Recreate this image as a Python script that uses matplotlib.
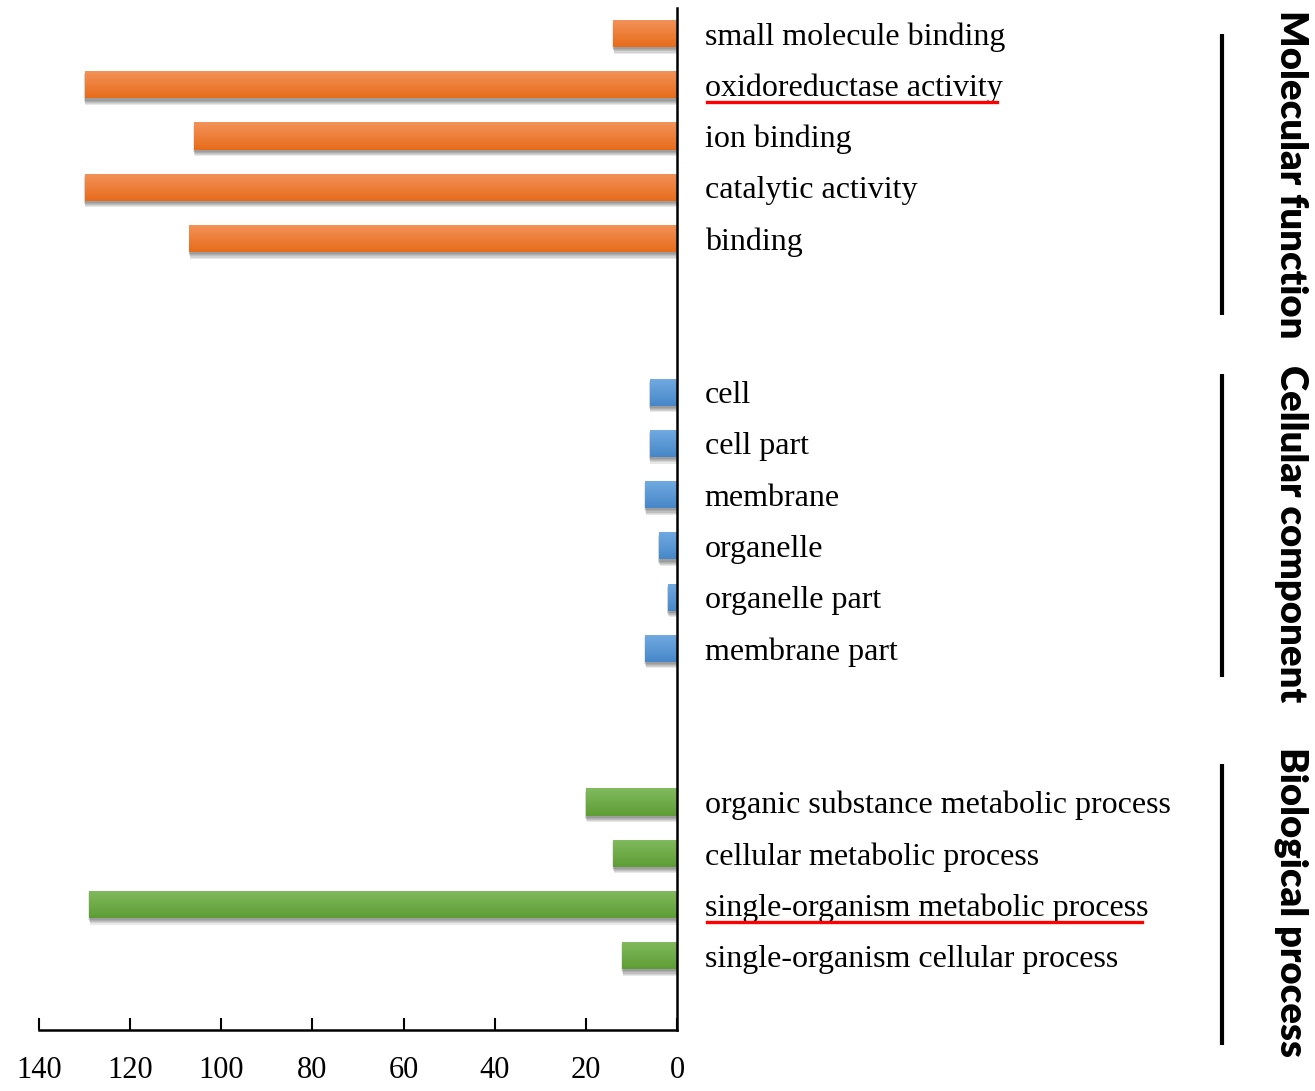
import matplotlib
matplotlib.use("Agg")
import matplotlib.pyplot as plt
import numpy as np
from matplotlib import patheffects as pe
from matplotlib.colors import LinearSegmentedColormap
from matplotlib.transforms import blended_transform_factory

# GO term counts, one list per ontology (top to bottom)
mf_terms = ["small molecule binding", "oxidoreductase activity", "ion binding",
            "catalytic activity", "binding"]
mf_counts = [14, 130, 106, 130, 107]

cc_terms = ["cell", "cell part", "membrane", "organelle", "organelle part",
            "membrane part"]
cc_counts = [6, 6, 7, 4, 2, 7]

bp_terms = ["organic substance metabolic process", "cellular metabolic process",
            "single-organism metabolic process", "single-organism cellular process"]
bp_counts = [20, 14, 129, 12]

group_names = ["Molecular function", "Cellular component", "Biological process"]
highlighted = ["oxidoreductase activity", "single-organism metabolic process"]
x_ticks = [140, 120, 100, 80, 60, 40, 20, 0]

# colour ramps (light top -> dark bottom) per ontology
ramps = [("#F3935A", "#E76C1A"), ("#72ABE2", "#4787C8"), ("#82BA5F", "#5E9D35")]

GAP = 2  # blank rows between ontologies

# lay the three blocks out on one category axis
rows, labels, values, block_of = [], [], [], []
pos = 0
for b, (t, c) in enumerate([(mf_terms, mf_counts), (cc_terms, cc_counts),
                            (bp_terms, bp_counts)]):
    for term, v in zip(t, c):
        rows.append(pos)
        labels.append(term)
        values.append(v)
        block_of.append(b)
        pos += 1
    pos += GAP

fig = plt.figure(figsize=(13.15, 10.91), dpi=100)
ax = fig.add_axes([39 / 1315, 61 / 1091, 638 / 1315, 1022 / 1091])

# soft drop shadow built from a few faint offset copies
shadow = [pe.SimplePatchShadow(offset=(-0.6 + 0.3 * k, -1.5 - 0.8 * k),
                               shadow_rgbFace="k", alpha=0.09) for k in range(5)]

bars = ax.barh(rows, values, height=0.53, color="none", edgecolor="none")
for bar, b in zip(bars, block_of):
    bar.set_facecolor(ramps[b][1])
    bar.set_path_effects(shadow + [pe.Normal()])
    cmap = LinearSegmentedColormap.from_list("g", [ramps[b][0], ramps[b][1]])
    x0, y0 = bar.get_x(), bar.get_y()
    w, h = bar.get_width(), bar.get_height()
    im = ax.imshow(np.linspace(0, 1, 64).reshape(-1, 1), cmap=cmap,
                   extent=(x0, x0 + w, y0 + h, y0), aspect="auto",
                   interpolation="bicubic", zorder=2.5)
    im.set_clip_path(bar)

# one spare category below the last term
ax.set_xlim(140, 0)
ax.set_ylim(rows[-1] + 1.45, -0.5)
ax.set_xticks(x_ticks)
ax.set_xticklabels([str(t) for t in x_ticks], family="Liberation Serif", fontsize=22)
ax.tick_params(axis="x", direction="in", length=9, width=1.5, pad=19)

ax.yaxis.tick_right()
ax.set_yticks(rows)
ax.set_yticklabels(labels, family="Liberation Serif", fontsize=23)
ax.tick_params(axis="y", length=0, pad=20)

for s in ["top", "left"]:
    ax.spines[s].set_visible(False)
ax.spines["bottom"].set_linewidth(1.8)
ax.spines["right"].set_linewidth(1.8)

# red underline beneath the highlighted terms
fig.canvas.draw()
r = fig.canvas.get_renderer()
for tl in ax.get_yticklabels():
    if tl.get_text() in highlighted:
        bb = tl.get_window_extent(r)
        y = (bb.y0 + 1) / fig.bbox.height
        fig.add_artist(plt.Line2D([(bb.x0 + 2) / fig.bbox.width,
                                   (bb.x1 - 6) / fig.bbox.width], [y, y],
                                  color="#FF0000", lw=2.4))

# ontology brackets and titles on the right
tr = blended_transform_factory(fig.transFigure, ax.transData)
brackets = [(0.0, 5.5), (6.65, 12.55), (14.25, 19.75)]
title_y = [2.75, 9.75, 16.95]
for name, (ya, yb), ty in zip(group_names, brackets, title_y):
    ax.plot([1222 / 1315] * 2, [ya, yb], transform=tr, color="k", lw=3,
            clip_on=False, solid_capstyle="butt")
    ax.text(1291 / 1315, ty, name, transform=tr, rotation=-90, ha="center",
            va="center", family="Lato", fontweight="heavy", fontsize=27.5)

fig.savefig("out.png", dpi=100)
